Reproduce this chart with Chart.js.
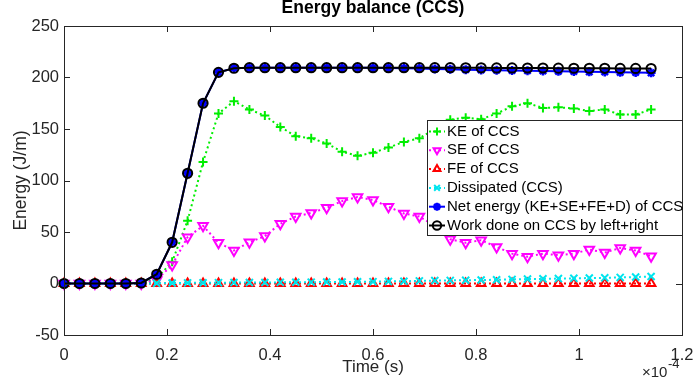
<!DOCTYPE html>
<html>
<head>
<meta charset="utf-8">
<script src="https://cdn.jsdelivr.net/npm/chart.js@4.4.1/dist/chart.umd.min.js"></script>
<style>
  html, body { margin: 0; padding: 0; background: #fff; }
</style>
</head>
<body>
<canvas id="energyChart" width="697" height="390"></canvas>
<script>
// time (s)
const timeS = [0, 3e-6, 6e-6, 9e-6, 1.2e-5, 1.5e-5, 1.8e-5, 2.1e-5, 2.4e-5, 2.7e-5,
  3.0e-5, 3.3e-5, 3.6e-5, 3.9e-5, 4.2e-5, 4.5e-5, 4.8e-5, 5.1e-5, 5.4e-5, 5.7e-5,
  6.0e-5, 6.3e-5, 6.6e-5, 6.9e-5, 7.2e-5, 7.5e-5, 7.8e-5, 8.1e-5, 8.4e-5, 8.7e-5,
  9.0e-5, 9.3e-5, 9.6e-5, 9.9e-5, 1.02e-4, 1.05e-4, 1.08e-4, 1.11e-4, 1.14e-4];

// energies (J/m)
const keCCS = [0, 0, 0, 0, 0, 0.5, 5, 21, 61, 118, 165, 177, 169, 163, 152, 143,
  141, 136, 128, 124, 127, 132, 137.5, 141, 150, 159, 161, 159.5, 165, 172, 175,
  170.5, 171, 170, 167.5, 169, 164, 164, 169];
const seCCS = [0, 0, 0, 0, 0, 0, 3.5, 18, 45, 56, 39.5, 32, 40, 46, 58, 65,
  68.5, 73.5, 80, 84, 81, 74.5, 68, 65, 56, 43, 39.5, 42, 35.5, 29, 26,
  29, 27.5, 29, 33, 30, 34.5, 32, 26.5];
const feCCS = [0, 0, 0, 0, 0, 0, 0, 0, 0, 0, 0, 0, 0, 0, 0, 0, 0, 0, 0, 0,
  0, 0, 0, 0, 0, 0, 0, 0, 0, 0, 0, 0, 0, 0, 0, 0, 0, 0, 0];
const dissCCS = [0, 0, 0, 0, 0, 0, 0.2, 0.5, 0.6, 0.7, 0.8, 0.9, 1.0, 1.0, 1.1, 1.2,
  1.3, 1.4, 1.5, 1.6, 1.8, 2.0, 2.2, 2.5, 2.8, 3.0, 3.2, 3.4, 3.6, 4.0, 4.3,
  4.5, 4.8, 5.0, 5.3, 5.5, 5.9, 6.3, 6.8];
const netCCS = [0, 0, 0, 0, 0, 0.5, 9, 40, 107, 175, 205, 209, 209.5, 209.5, 209.5, 209.5,
  209.5, 209.5, 209.5, 209.5, 209.5, 209.3, 209, 208.7, 208.3, 208, 207.6, 207.3, 207, 206.8, 206.5,
  206.3, 206, 205.8, 205.5, 205.3, 205, 204.8, 204.5];
const workCCS = [0, 0, 0, 0, 0, 0.5, 9, 40, 107, 175, 205, 209, 209.5, 209.5, 209.5, 209.5,
  209.5, 209.5, 209.5, 209.5, 209.5, 209.5, 209.5, 209.5, 209.5, 209.5, 209.4, 209.4, 209.3, 209.3, 209.2,
  209.2, 209.1, 209, 209, 208.9, 208.8, 208.8, 208.7];

const xTicks = [0, 2e-5, 4e-5, 6e-5, 8e-5, 1e-4, 1.2e-4];
const yTicks = [-50, 0, 50, 100, 150, 200, 250];

const FONT = "'Liberation Sans', Arial, Helvetica, sans-serif";
const AXIS = '#262626';

const pts = arr => timeS.map((t, i) => ({ x: t, y: arr[i] }));

const series = [
  { label: 'KE of CCS', data: keCCS, color: '#00ee00', style: 'cross', radius: 4.5, rot: 0, dash: [2, 3], width: 2, order: 6 },
  { label: 'SE of CCS', data: seCCS, color: '#ff00ff', style: 'triangle', radius: 5.5, rot: 180, dash: [2, 3], width: 2, order: 5 },
  { label: 'FE of CCS', data: feCCS, color: '#ff0000', style: 'triangle', radius: 5, rot: 0, dash: [2, 3], width: 2, order: 4 },
  { label: 'Dissipated (CCS)', data: dissCCS, color: '#00e5ee', style: 'crossRot', radius: 5, rot: 0, dash: [2, 3], width: 2, order: 3 },
  { label: 'Net energy (KE+SE+FE+D) of CCS', data: netCCS, color: '#0000ff', style: 'star', radius: 4.5, rot: 0, dash: [], width: 2, order: 2 },
  { label: 'Work done on CCS by left+right', data: workCCS, color: '#000000', style: 'circle', radius: 4.6, rot: 0, dash: [], width: 2, order: 1 }
];

const datasets = series.map(s => ({
  label: s.label,
  data: pts(s.data),
  borderColor: s.color,
  backgroundColor: 'rgba(0,0,0,0)',
  borderWidth: s.width,
  borderDash: s.dash,
  pointStyle: s.style,
  pointRadius: s.radius,
  pointRotation: s.rot,
  pointBorderColor: s.color,
  pointBackgroundColor: 'rgba(0,0,0,0)',
  pointBorderWidth: s.style === 'star' ? 2.5 : 2,
  tension: 0,
  clip: false,
  order: s.order
}));

// title, box, inward ticks, exponent and legend (MATLAB look)
const decor = {
  id: 'decor',
  afterDraw(chart) {
    const { ctx, chartArea: a, scales: { x, y } } = chart;
    ctx.save();
    ctx.strokeStyle = AXIS;
    ctx.lineWidth = 1;
    ctx.setLineDash([]);
    ctx.beginPath();
    x.ticks.forEach(t => {
      const px = Math.round(x.getPixelForValue(t.value)) + 0.5;
      ctx.moveTo(px, a.bottom); ctx.lineTo(px, a.bottom - 6);
      ctx.moveTo(px, a.top); ctx.lineTo(px, a.top + 6);
    });
    y.ticks.forEach(t => {
      const py = Math.round(y.getPixelForValue(t.value)) + 0.5;
      ctx.moveTo(a.left, py); ctx.lineTo(a.left + 6, py);
      ctx.moveTo(a.right, py); ctx.lineTo(a.right - 6, py);
    });
    ctx.stroke();
    ctx.strokeRect(Math.round(a.left) + 0.5, Math.round(a.top) + 0.5,
      Math.round(a.right - a.left), Math.round(a.bottom - a.top));

    // title
    ctx.fillStyle = '#000';
    ctx.font = 'bold 17.5px ' + FONT;
    ctx.textAlign = 'center';
    ctx.textBaseline = 'middle';
    ctx.fillText('Energy balance (CCS)', (a.left + a.right) / 2, 8.5);

    // exponent
    ctx.fillStyle = AXIS;
    ctx.textAlign = 'left';
    ctx.font = '15px ' + FONT;
    ctx.fillText('\u00d710', 642, 373);
    ctx.font = '13px ' + FONT;
    ctx.fillText('-4', 668, 364);

    // legend
    const lx = 427, ly = 120, lw = Math.round(a.right) - 427, lh = 115;
    ctx.fillStyle = '#fff';
    ctx.fillRect(lx, ly, lw, lh);
    ctx.strokeStyle = AXIS;
    ctx.lineWidth = 1;
    ctx.strokeRect(lx + 0.5, ly + 0.5, lw, lh);
    series.forEach((s, i) => {
      const ry = 131.5 + i * 18.8;
      ctx.strokeStyle = s.color;
      ctx.lineWidth = s.width;
      ctx.setLineDash(s.dash);
      ctx.beginPath();
      ctx.moveTo(429, ry); ctx.lineTo(445, ry);
      ctx.stroke();
      ctx.setLineDash([]);
      ctx.fillStyle = 'rgba(0,0,0,0)';
      ctx.lineWidth = s.style === 'star' ? 2.5 : 2;
      Chart.helpers.drawPoint(ctx, { pointStyle: s.style, radius: s.style === 'circle' ? 4.2 : 4, rotation: s.rot, borderWidth: 2 }, 437, ry);
      ctx.fillStyle = '#000';
      ctx.font = '15px ' + FONT;
      ctx.textAlign = 'left';
      ctx.textBaseline = 'middle';
      ctx.fillText(s.label, 447, ry);
    });
    ctx.restore();
  }
};

Chart.defaults.font.family = FONT;
Chart.defaults.color = AXIS;

new Chart(document.getElementById('energyChart'), {
  type: 'line',
  data: { datasets },
  plugins: [decor],
  options: {
    responsive: false,
    animation: false,
    layout: { padding: { top: 26, right: 15, left: 0, bottom: 0 } },
    plugins: { legend: { display: false }, tooltip: { enabled: false }, title: { display: false } },
    scales: {
      x: {
        type: 'linear',
        min: 0,
        max: 1.2e-4,
        afterBuildTicks: s => { s.ticks = xTicks.map(v => ({ value: v })); },
        afterFit: s => { s.height = 55; s.paddingLeft = 0; s.paddingRight = 0; },
        grid: { display: false, drawTicks: false },
        border: { display: false },
        ticks: {
          font: { size: 16.5 },
          padding: 11,
          maxRotation: 0,
          callback: v => String(Math.round(v * 1e5) / 10)
        },
        title: { display: true, text: 'Time (s)', font: { size: 17 }, padding: { top: 0, bottom: 12 } }
      },
      y: {
        min: -50,
        max: 250,
        afterBuildTicks: s => { s.ticks = yTicks.map(v => ({ value: v })); },
        afterFit: s => { s.width = 64; s.paddingTop = 0; s.paddingBottom = 0; },
        grid: { display: false, drawTicks: false },
        border: { display: false },
        ticks: { font: { size: 16.5 }, padding: 5 },
        title: { display: true, text: 'Energy (J/m)', font: { size: 17.5 }, padding: { top: 11, bottom: 0 } }
      }
    }
  }
});
</script>
</body>
</html>
